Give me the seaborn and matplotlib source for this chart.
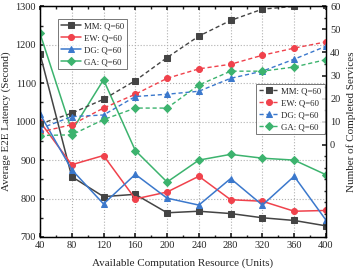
import matplotlib
matplotlib.use("Agg")
import matplotlib.pyplot as plt
from matplotlib.ticker import MultipleLocator
import seaborn as sns
import pandas as pd

# x values: available computation resource
resource = [40, 80, 120, 160, 200, 240, 280, 320, 360, 400]

# average E2E latency (left axis, solid)
lat_mm = [1177, 857, 805, 811, 763, 767, 761, 750, 743, 729]
lat_ew = [1000, 888, 912, 799, 817, 858, 797, 793, 767, 769]
lat_dg = [1020, 875, 786, 863, 801, 783, 852, 783, 858, 744]
lat_ga = [1230, 976, 1109, 925, 843, 900, 915, 905, 900, 862]

# number of completed services (right axis, dashed)
done_mm = [9.0, 13.7, 19.7, 27.8, 37.8, 47.1, 53.9, 58.8, 60.0, 60.5]
done_ew = [5.5, 8.7, 15.9, 21.9, 28.8, 32.9, 34.9, 38.8, 41.9, 44.6]
done_dg = [7.0, 12.2, 12.9, 20.9, 21.9, 23.2, 28.8, 31.9, 37.1, 42.7]
done_ga = [4.0, 4.3, 10.9, 15.9, 15.9, 25.9, 31.9, 31.9, 33.7, 36.9]

labels = ["MM: Q=60", "EW: Q=60", "DG: Q=60", "GA: Q=60"]
colors = ["#444444", "#f0424c", "#3b78cc", "#3cb36e"]
markers = ["s", "o", "^", "D"]

sns.set_theme(style="ticks")
plt.rcParams["font.family"] = ["Liberation Serif", "DejaVu Serif"]
plt.rcParams["font.size"] = 7.5

fig = plt.figure(figsize=(3.57, 2.71), dpi=100)
ax = fig.add_axes([0.112, 0.1255, 0.801, 0.851])
ax2 = ax.twinx()

lat_series = [lat_mm, lat_ew, lat_dg, lat_ga]
done_series = [done_mm, done_ew, done_dg, done_ga]

h1 = []
for ys, lab, c, m in zip(lat_series, labels, colors, markers):
    df = pd.DataFrame({"x": resource, "y": ys})
    sns.lineplot(data=df, x="x", y="y", ax=ax, color=c, marker=m, markersize=4.3,
                 markeredgecolor=c, linewidth=1.1, label=lab, legend=False)
    h1.append(ax.lines[-1])

h2 = []
for ys, lab, c, m in zip(done_series, labels, colors, markers):
    df = pd.DataFrame({"x": resource, "y": ys})
    sns.lineplot(data=df, x="x", y="y", ax=ax2, color=c, marker=m, markersize=4.3,
                 markeredgecolor=c, linewidth=1.0, linestyle=(0, (3, 2)),
                 label=lab, legend=False)
    h2.append(ax2.lines[-1])

ax.set_xlim(40, 400)
ax.set_ylim(700, 1300)
ax2.set_ylim(-40, 60)
ax.xaxis.set_major_locator(MultipleLocator(40))
ax.xaxis.set_minor_locator(MultipleLocator(20))
ax.yaxis.set_major_locator(MultipleLocator(100))
ax.yaxis.set_minor_locator(MultipleLocator(50))
ax2.set_yticks([0, 10, 20, 30, 40, 50, 60])
ax2.yaxis.set_minor_locator(MultipleLocator(5))

ax.grid(True, which="major", linestyle=":", color="#b0b0b0", linewidth=0.8)
ax.tick_params(which="both", direction="in", top=True, labelsize=7.5, pad=3)
ax.tick_params(which="major", length=3)
ax.tick_params(which="minor", length=1.8)
ax2.tick_params(which="both", direction="in", labelsize=7.5, pad=3)
ax2.tick_params(which="major", length=3)
ax2.tick_params(which="minor", length=1.8)

for a in (ax, ax2):
    for s in a.spines.values():
        s.set_linewidth(0.9)
        s.set_color("black")

ax.set_xlabel("Available Computation Resource (Units)", fontsize=8, labelpad=6)
ax.set_ylabel("Average E2E Latency (Second)", fontsize=8, labelpad=3)
ax2.set_ylabel("Number of Completed Services", fontsize=8, labelpad=4)

leg_kw = dict(fontsize=6.3, frameon=True, fancybox=False, edgecolor="#555555",
              handlelength=2.3, borderpad=0.35, labelspacing=0.45,
              handletextpad=0.3, borderaxespad=0)
leg1 = ax.legend(h1, labels, loc="upper left", bbox_to_anchor=(0.063, 0.946),
                 **leg_kw)
leg1.get_frame().set_linewidth(0.7)
leg2 = ax2.legend(h2, labels, loc="upper right", bbox_to_anchor=(0.996, 0.664),
                  **leg_kw)
leg2.get_frame().set_linewidth(0.7)

fig.savefig("out.png", dpi=100)
